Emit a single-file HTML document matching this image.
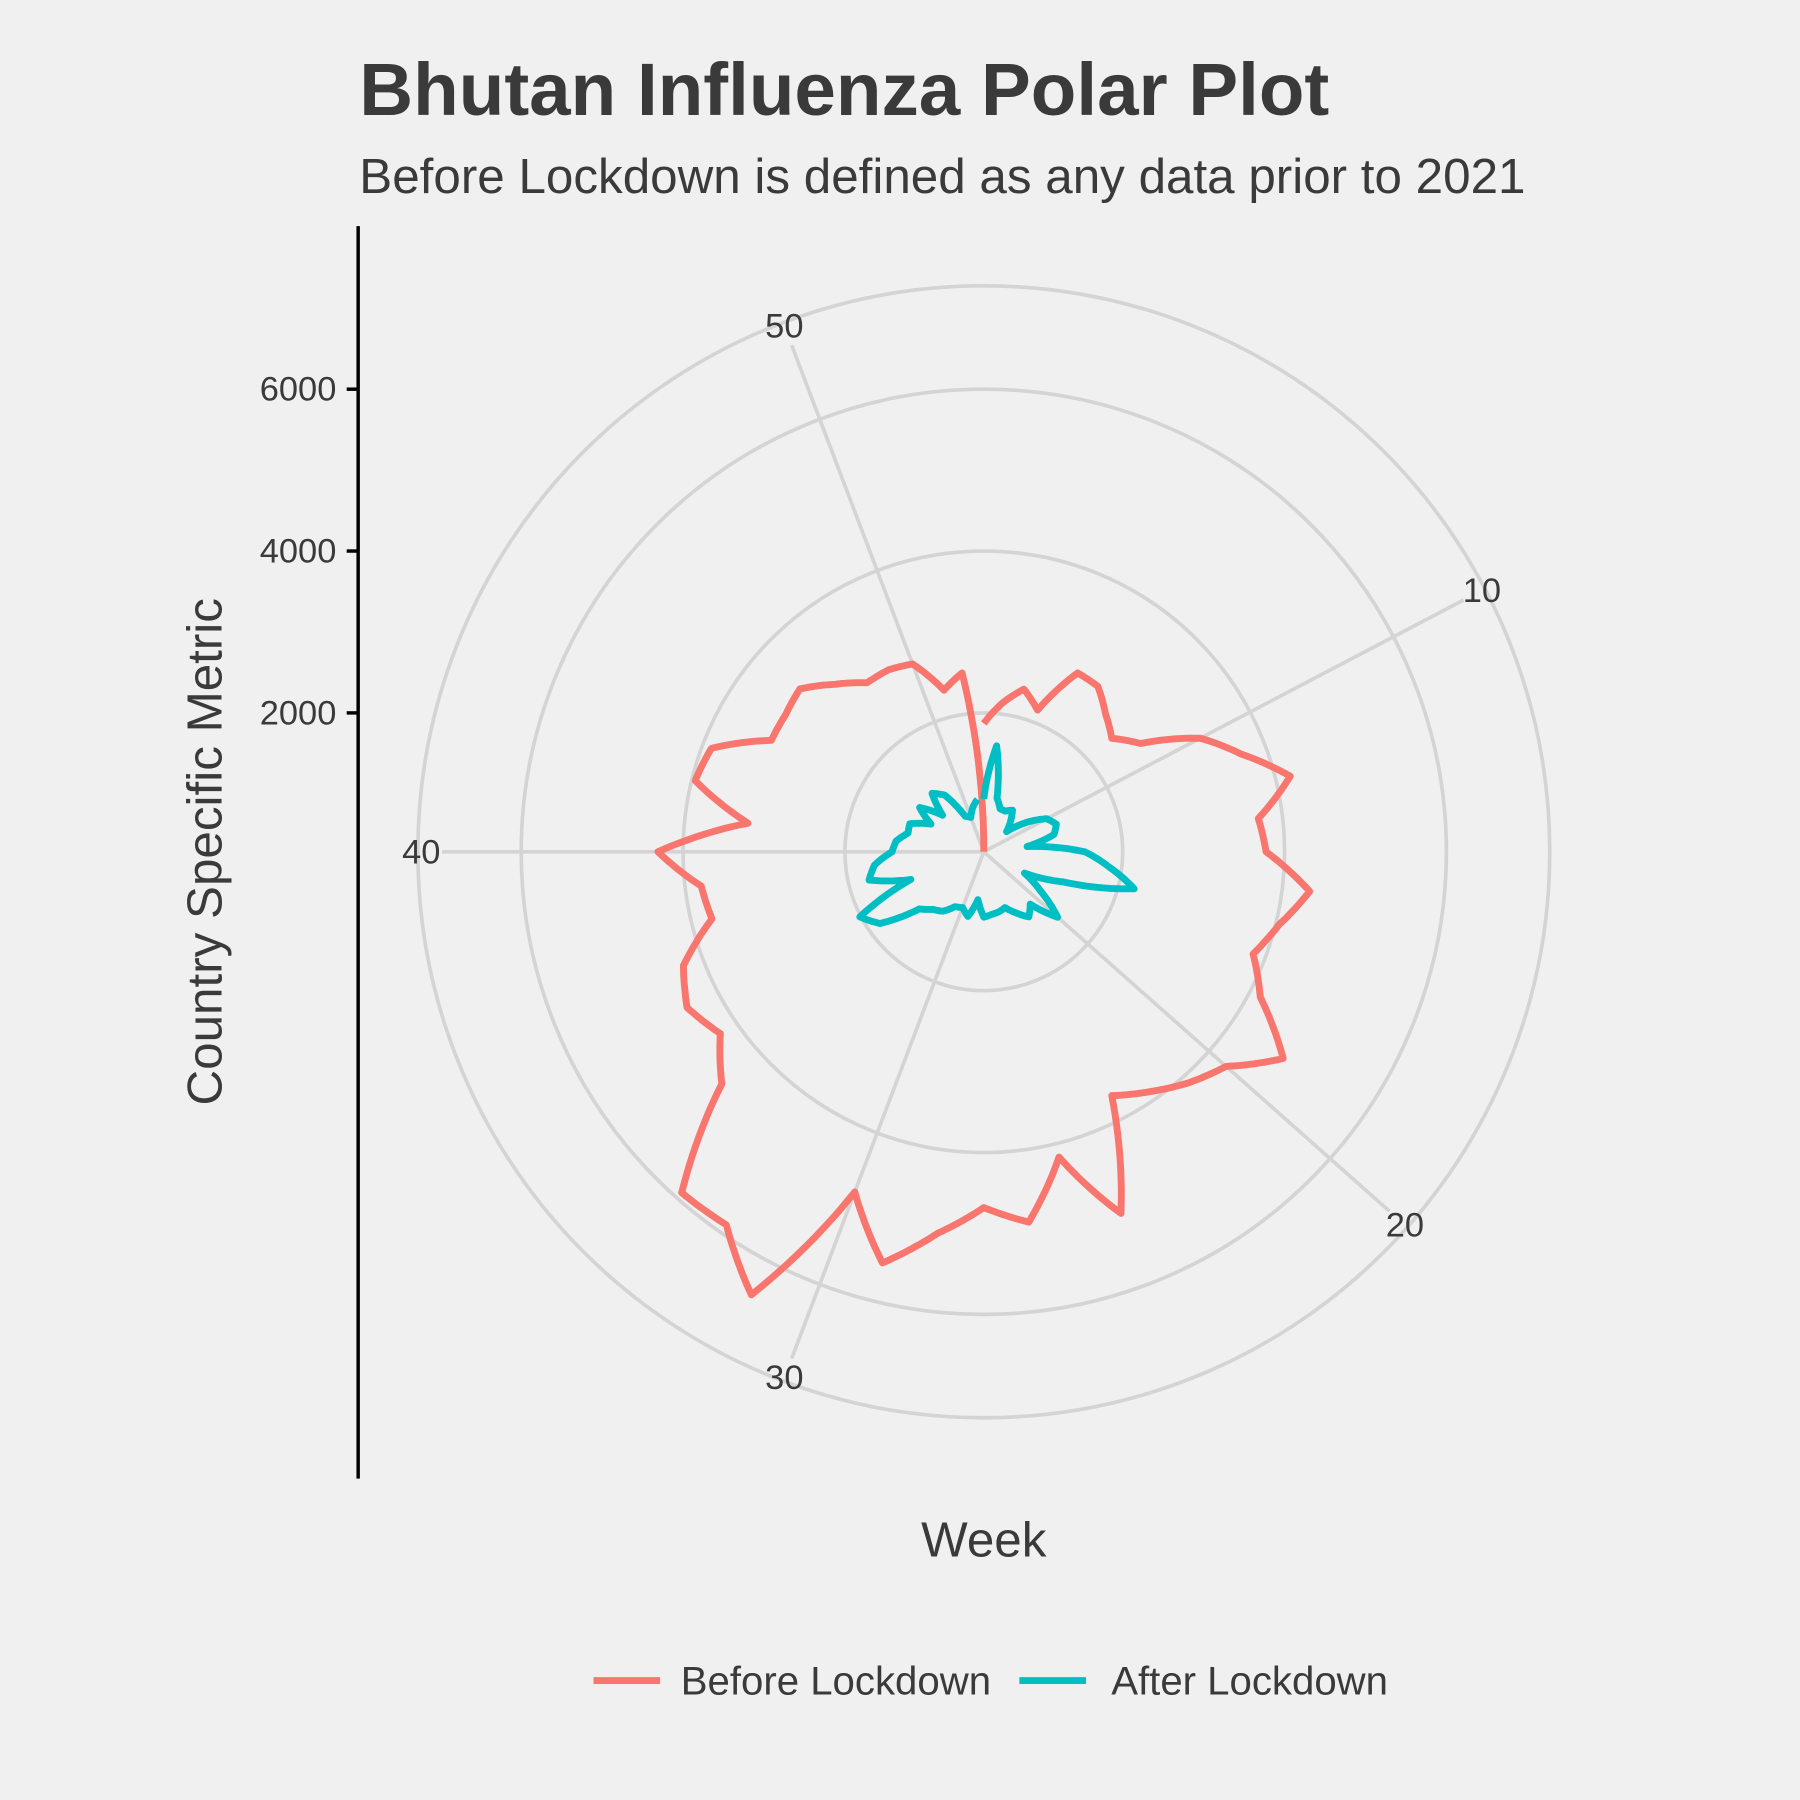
<!DOCTYPE html>
<html><head><meta charset="utf-8"><style>
html,body{margin:0;padding:0;background:#f0f0f0;}
svg{display:block;font-family:"Liberation Sans",Arial,sans-serif;}
</style></head><body>
<svg id="chart" width="1800" height="1800" viewBox="0 0 1568 1568" xmlns="http://www.w3.org/2000/svg">
<rect width="1568" height="1568" fill="#f0f0f0"/>
<text x="313" y="100" font-size="65" font-weight="bold" fill="#3a3a3a">Bhutan Influenza Polar Plot</text>
<text x="313" y="168" font-size="43" fill="#3a3a3a">Before Lockdown is defined as any data prior to 2021</text>
<g id="grid"></g>
<g id="series"></g>
<line x1="312" y1="197" x2="312" y2="1288" stroke="#000" stroke-width="3"/>
<g id="yticks"></g>
<text transform="translate(193,742) rotate(-90)" text-anchor="middle" font-size="43" fill="#3a3a3a">Country Specific Metric</text>
<text x="857" y="1356" text-anchor="middle" font-size="43" fill="#3a3a3a">Week</text>
<g>
<line x1="517" y1="1464" x2="575" y2="1464" stroke="#f8766d" stroke-width="6"/>
<text x="593" y="1476" font-size="35" fill="#3a3a3a">Before Lockdown</text>
<line x1="888" y1="1464" x2="946" y2="1464" stroke="#00bfc4" stroke-width="6"/>
<text x="968" y="1476" font-size="35" fill="#3a3a3a">After Lockdown</text>
</g>
</svg>
<script>
const weeks = Array.from({length:53},(_,i)=>i+1);
const beforeValues = [1870,2130,2354,2156,2780,2766,2553,2397,2638,3304,3687,4184,3701,3772,4340,4042,3843,4141,4779,4283,4098,3886,3687,5063,4169,4893,4680,5034,5516,4779,6466,5885,5913,4609,4240,4425,4254,3744,3801,4311,3219,3957,3886,3248,3262,3319,3049,2822,2822,2766,2340,2510,284];
const afterValues = [936,1603,965,851,851,908,780,660,922,1163,1243,1177,823,1532,1844,2198,1333,851,1135,1503,1149,1262,1135,1021,1050,1064,1092,880,1106,1021,1050,1177,1234,1348,1844,2014,1248,1745,1645,1418,1376,1248,1262,1021,1248,965,1248,1135,780,738,851,936];
const yTicks = [2000,4000,6000];
const weekTicks = [10,20,30,40,50];

const NS="http://www.w3.org/2000/svg";
const cx=857, cy=742;
function rScale(v){return (v-284)*0.0705;}
function theta(w){return (w-1)*2*Math.PI/52;}
function pt(t,r){return [cx+r*Math.sin(t), cy-r*Math.cos(t)];}
function mk(tag,attrs,parent){const e=document.createElementNS(NS,tag);for(const k in attrs)e.setAttribute(k,attrs[k]);parent.appendChild(e);return e;}

const grid=document.getElementById('grid');
[...yTicks.map(rScale),493].forEach((r,i)=>{
  const c=mk('circle',{cx:cx,cy:cy,r:r,fill:'none',stroke:'#d4d4d4','stroke-width':3.2},grid);
  
  
});
weekTicks.forEach(w=>{
  const t=theta(w);const p=pt(t,472);
  const l=mk('line',{x1:cx,y1:cy,x2:p[0],y2:p[1],stroke:'#d4d4d4','stroke-width':3.2},grid);
  
  
  const q=pt(t,490);
  const tx=mk('text',{x:q[0],y:q[1]+10,'text-anchor':'middle','font-size':30,fill:'#3a3a3a'},grid);
  tx.textContent=w;
  
  
});
const yt=document.getElementById('yticks');
yTicks.forEach(v=>{
  const y=cy-rScale(v);
  const l=mk('line',{x1:302,y1:y,x2:312,y2:y,stroke:'#000','stroke-width':3},yt);
  
  
  const t=mk('text',{x:293,y:y+10,'text-anchor':'end','font-size':30,fill:'#3a3a3a'},yt);
  t.textContent=v;
  
  
});
function drawSeries(vals,color,name){
  let d='';
  for(let i=0;i<vals.length;i++){
    const t0=theta(weeks[i]),r0=rScale(vals[i]);
    if(i===0){const p=pt(t0,r0);d+='M'+p[0].toFixed(1)+','+p[1].toFixed(1);continue;}
    const tp=theta(weeks[i-1]),rp=rScale(vals[i-1]);
    for(let s=1;s<=12;s++){const f=s/12;const p=pt(tp+(t0-tp)*f,rp+(r0-rp)*f);d+='L'+p[0].toFixed(1)+','+p[1].toFixed(1);}
  }
  const p=mk('path',{d:d,fill:'none',stroke:color,'stroke-width':6,'stroke-linejoin':'round'},document.getElementById('series'));
  
  
}
drawSeries(beforeValues,'#f8766d','before-lockdown-line');
drawSeries(afterValues,'#00bfc4','after-lockdown-line');
</script>
</body></html>
